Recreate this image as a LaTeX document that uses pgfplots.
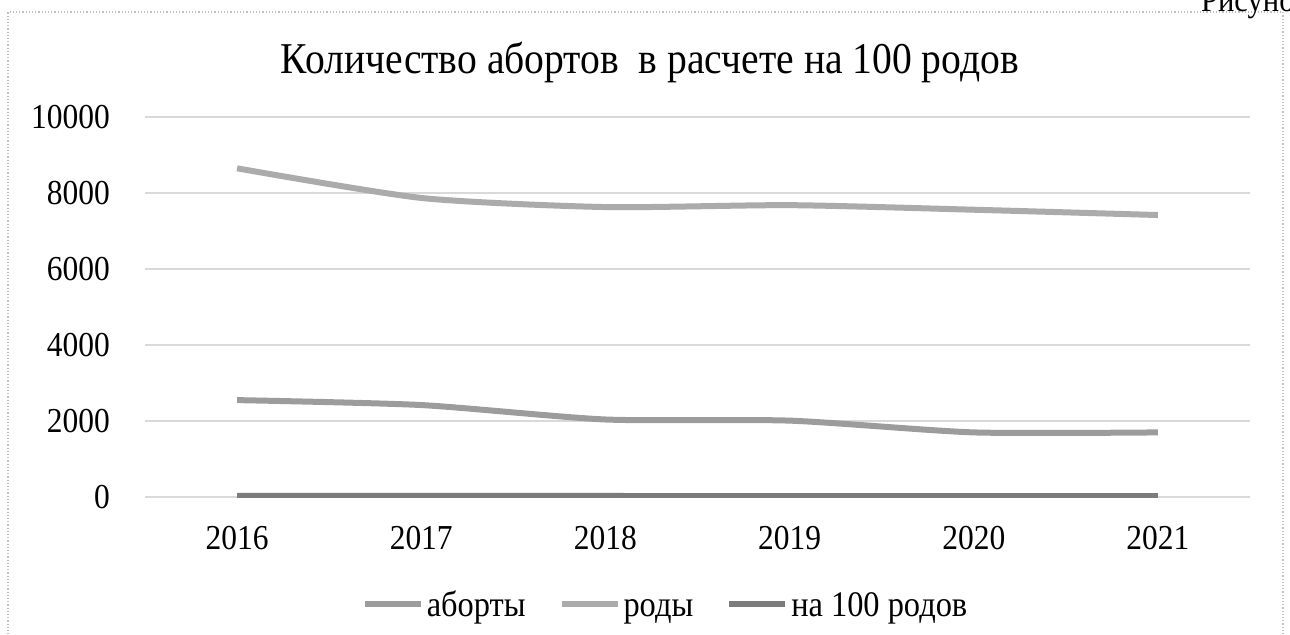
\documentclass[border=0pt]{standalone}
\usepackage{pgfplots}
\pgfplotsset{compat=1.18}
\usepackage{fontspec}
\setmainfont{Liberation Serif}[FakeStretch=0.9]
\definecolor{cab}{HTML}{9C9C9C}
\definecolor{crod}{HTML}{ABABAB}
\definecolor{cna}{HTML}{7C7C7C}
\begin{document}
\begin{tikzpicture}[x=1pt,y=1pt]
\useasboundingbox (0,0) rectangle (645,317);
\draw[gray!50, densely dotted, line width=0.6pt] (4,-5) rectangle (641.5,311);
\node[anchor=base west, font=\fontsize{17}{19}\selectfont] at (597,311.5) {Рисунок};
\node[font=\fontsize{22}{25}\selectfont] at (325,286) {Количество абортов\ \ в расчете на 100 родов};
\begin{axis}[
  at={(72.5pt,68.5pt)}, anchor=south west,
  scale only axis, width=552.5pt, height=190pt,
  xmin=-0.5, xmax=5.5, ymin=0, ymax=10000,
  xtick={0,1,2,3,4,5},
  xticklabels={2016,2017,2018,2019,2020,2021},
  ytick={0,2000,4000,6000,8000,10000},
  /pgf/number format/assume math mode=true,
  /pgf/number format/1000 sep={},
  scaled y ticks=false,
  ymajorgrids, grid style={gray!30, line width=0.6pt},
  axis line style={draw=none},
  tick style={draw=none},
  ticklabel style={font=\fontsize{17.5}{19}\selectfont},
  xticklabel style={yshift=-11pt},
  yticklabel style={xshift=-14pt},
  legend style={at={(0.4715,-0.2816)}, anchor=center, draw=none, fill=none,
    font=\fontsize{18}{20}\selectfont, legend columns=3,
    nodes={inner xsep=1.5pt},
    /tikz/every odd column/.append style={column sep=0pt},
    /tikz/every even column/.append style={column sep=15pt}},
  legend image code/.code={\draw[#1] (0pt,0pt) -- (28pt,0pt);},
  legend cell align=left,
]
\addplot[cab, line width=3pt, smooth, tension=0.4] coordinates {(0,2550) (1,2420) (2,2040) (3,2010) (4,1700) (5,1700)};
\addlegendentry{\strut аборты}
\addplot[crod, line width=3pt, smooth, tension=0.4] coordinates {(0,8650) (1,7870) (2,7630) (3,7680) (4,7560) (5,7420)};
\addlegendentry{\strut роды}
\addplot[cna, line width=3pt, smooth, tension=0.4] coordinates {(0,29.5) (1,30.7) (2,26.7) (3,26.2) (4,22.5) (5,22.9)};
\addlegendentry{\strut на 100 родов}
\end{axis}
\end{tikzpicture}
\end{document}
